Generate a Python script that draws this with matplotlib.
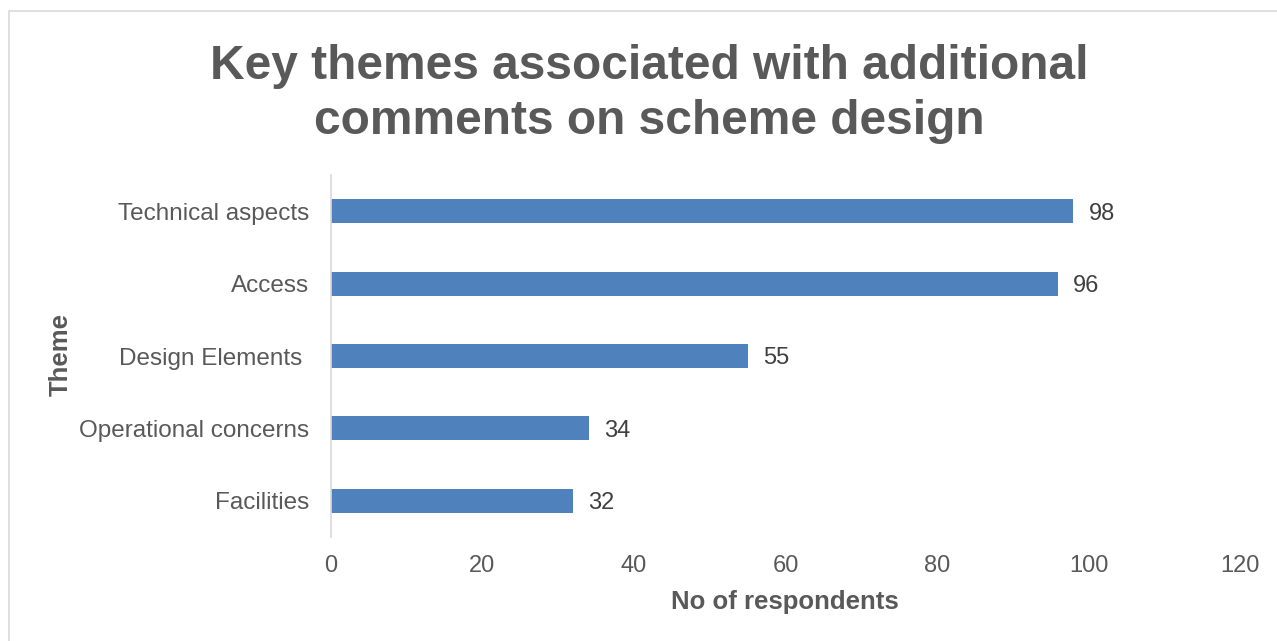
import matplotlib
matplotlib.use('Agg')
import matplotlib.pyplot as plt
from matplotlib.patches import Rectangle

plt.rcParams['font.family'] = ['Liberation Sans', 'DejaVu Sans']

# themes listed bottom to top
themes = ['Facilities', 'Operational concerns', 'Design Elements ', 'Access', 'Technical aspects']
counts = [32, 34, 55, 96, 98]
xticks = [0, 20, 40, 60, 80, 100, 120]

bar_color = '#4F81BD'
text_grey = '#595959'

fig = plt.figure(figsize=(12.77, 6.41), dpi=100)
# chart area frame
fig.patches.append(Rectangle((9 / 1277, -0.01), 1.02, (641 - 11) / 641 + 0.01,
                             transform=fig.transFigure, fill=False,
                             edgecolor='#D9D9D9', linewidth=1.2))

ax = fig.add_axes([331 / 1277, 1 - 537 / 641, (1240 - 331) / 1277, (537 - 175) / 641])
ypos = range(len(themes))
ax.barh(ypos, counts, height=0.33, color=bar_color)
for y, v in zip(ypos, counts):
    ax.text(v + 2, y, str(v), va='center_baseline', ha='left', fontsize=17, color='#404040')

ax.set_xlim(0, 120)
ax.set_ylim(-0.5, len(themes) - 0.5)
ax.set_xticks(xticks)
ax.set_yticks(list(ypos))
ax.set_yticklabels(themes, fontsize=17.5)
ax.tick_params(axis='both', length=0, labelcolor=text_grey)
ax.tick_params(axis='x', pad=13, labelsize=17)
ax.tick_params(axis='y', pad=16)
for s in ['top', 'right', 'bottom']:
    ax.spines[s].set_visible(False)
ax.spines['left'].set_color('#D9D9D9')
ax.spines['left'].set_linewidth(1.2)

fig.text(785 / 1277, 1 - 602 / 641, 'No of respondents', ha='center', va='center',
         fontsize=18.5, fontweight='bold', color=text_grey)
fig.text(61 / 1277, 1 - 355 / 641, 'Theme', rotation=90, ha='center', va='center',
         fontsize=18.5, fontweight='bold', color=text_grey)

fig.text(649 / 1277, 1 - 94 / 641, 'Key themes associated with additional\ncomments on scheme design',
         ha='center', va='center', fontsize=34.5, fontweight='bold', color=text_grey,
         linespacing=1.27)

fig.savefig('out.png', dpi=100, facecolor='white')
